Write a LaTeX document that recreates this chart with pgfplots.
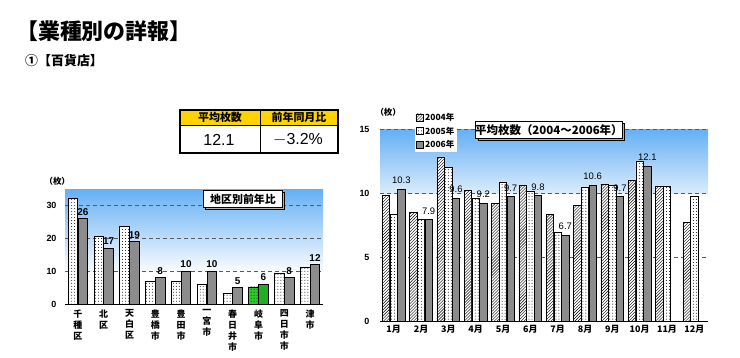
\documentclass[border=0pt]{standalone}
\usepackage{pgfplots}
\pgfplotsset{compat=1.18}
\usetikzlibrary{patterns}
\usepackage{fontspec}
\setmainfont{Liberation Sans}
\newfontfamily\cjk{Noto Sans CJK JP}
\definecolor{skyb}{RGB}{100,175,245}
\definecolor{skyl}{RGB}{218,236,252}
\definecolor{barg}{RGB}{140,140,140}
\definecolor{gold}{RGB}{255,210,0}
\definecolor{grn}{RGB}{40,205,40}
\definecolor{gridc}{RGB}{90,90,90}
\pgfplotsset{
  /pgf/number format/assume math mode=true,
  hatchbar/.style={fill=white, draw=black, line width=0.8bp, postaction={pattern=north east lines}},
  dotbar/.style={fill=white, draw=black, line width=0.8bp, postaction={pattern=dots}},
  graybar/.style={fill=barg, draw=black, line width=0.8bp},
}
\begin{document}
\begin{tikzpicture}
\path[use as bounding box] (0,0) rectangle (740bp,-358bp);
% titles
\node[anchor=west, inner sep=0] at (16bp,-31bp) {\cjk\fontsize{22}{26}\selectfont\bfseries 【業種別の詳報】};
\node[anchor=west, inner sep=0] at (25bp,-61bp) {\cjk\fontsize{13}{15}\selectfont\bfseries ①【百貨店】};
% summary table
\fill[gold] (180bp,-110bp) rectangle (338bp,-125bp);
\draw[line width=0.8bp] (180bp,-125bp) -- (338bp,-125bp);
\draw[line width=0.8bp] (260bp,-110bp) -- (260bp,-153bp);
\draw[line width=1.4bp] (180bp,-110bp) rectangle (338bp,-153bp);
\node at (220bp,-117.5bp) {\cjk\fontsize{11}{12}\selectfont\bfseries 平均枚数};
\node at (299bp,-117.5bp) {\cjk\fontsize{11}{12}\selectfont\bfseries 前年同月比};
\node at (219bp,-140bp) {\fontsize{16}{18}\selectfont 12.1};
\node at (298bp,-140bp) {\fontsize{16}{18}\selectfont $-$3.2\%};

% ---------------- left chart ----------------
\begin{axis}[
  at={(65bp,-304bp)}, anchor=south west, scale only axis,
  width=258bp, height=115bp,
  xmin=-0.5, xmax=9.5, ymin=0, ymax=35,
  ytick={0,10,20,30}, xtick={0,...,9},
  xticklabels={{千\\種\\区},{北\\区},{天\\白\\区},{豊\\橋\\市},{豊\\田\\市},{一\\宮\\市},{春\\日\\井\\市},{岐\\阜\\市},{四\\日\\市\\市},{津\\市}},
  xticklabel style={align=center, font=\cjk\fontsize{9}{11}\selectfont\bfseries, yshift=-2bp},
  yticklabel style={font=\fontsize{9}{10}\selectfont\bfseries, xshift=-5bp},
  major tick length=0pt,
  axis x line*=bottom, axis y line*=left,
  y axis line style={draw=none},
  x axis line style={line width=1bp},
  ybar, bar width=0.37,
  clip=false,
]
\shade[top color=skyb, bottom color=white, draw=none] (axis cs:-0.5,35) rectangle (axis cs:9.5,9);
\foreach \v in {10,20,30}{
  \edef\tmp{\noexpand\draw[dashed, gridc, line width=0.9bp, dash pattern=on 4bp off 3bp] (axis cs:-0.5,\v) -- (axis cs:9.5,\v);}\tmp
}
\addplot[dotbar, bar shift=-0.19] coordinates {(0,32) (1,20.7) (2,23.7) (3,7) (4,7) (5,6.1) (6,3.3) (7,5.2) (8,9.2) (9,11.2)};
\addplot[graybar, bar shift=0.19, nodes near coords, point meta=y,
  every node near coord/.append style={font=\fontsize{10}{11}\selectfont\bfseries, black, inner sep=1bp, yshift=2bp}]
  coordinates {(0,26) (1,17) (2,19) (3,8) (4,10) (5,10) (6,5) (7,6) (8,8) (9,12)};
\addplot[fill=grn, draw=black, line width=0.8bp, postaction={pattern=dots}, bar shift=-0.19] coordinates {(7,5.2)};
\addplot[fill=grn!85!black, draw=black, line width=0.8bp, bar shift=0.19] coordinates {(7,6)};
\node[anchor=south] at (rel axis cs:-0.03,1.0) {\cjk\fontsize{8.5}{10}\selectfont\bfseries （枚）};
\node[draw=black, fill=gray!60, minimum width=79bp, minimum height=17bp, inner sep=0] at ([xshift=1.5bp,yshift=-1.5bp]rel axis cs:0.69,0.913) {};
\node[draw=black, line width=0.6bp, fill=white, minimum width=79bp, minimum height=17bp, inner sep=0] at (rel axis cs:0.69,0.913) {\cjk\fontsize{11}{12}\selectfont\bfseries 地区別前年比};
\end{axis}

% ---------------- right chart ----------------
\begin{axis}[
  at={(380bp,-321bp)}, anchor=south west, scale only axis,
  width=328bp, height=192bp,
  xmin=0.5, xmax=12.5, ymin=0, ymax=15,
  ytick={0,5,10,15}, xtick={1,...,12},
  xticklabels={1月,2月,3月,4月,5月,6月,7月,8月,9月,10月,11月,12月},
  xticklabel style={font=\cjk\fontsize{9}{10}\selectfont\bfseries, yshift=-1bp},
  yticklabel style={font=\fontsize{9}{10}\selectfont\bfseries, xshift=-7bp},
  major tick length=0pt,
  axis x line*=bottom, axis y line*=left,
  y axis line style={draw=none},
  x axis line style={line width=1bp},
  ybar, bar width=0.27,
  clip=false,
  legend cell align=left,
  legend style={at={(0.105,1.10)}, anchor=north west, draw=none, fill=white,
    font=\cjk\fontsize{8.5}{9}\selectfont\bfseries, inner sep=1bp, row sep=1bp},
  legend image code/.code={\draw[#1, line width=0.6bp] (0bp,-3.5bp) rectangle (7bp,3.5bp);},
]
\shade[top color=skyb, bottom color=skyl, draw=none] (axis cs:0.5,15) rectangle (axis cs:12.5,10);
\foreach \v in {5,10,15}{
  \edef\tmp{\noexpand\draw[dashed, gridc, line width=0.9bp, dash pattern=on 4bp off 3bp] (axis cs:0.5,\v) -- (axis cs:12.5,\v);}\tmp
}
\addplot[hatchbar, bar shift=-0.28] coordinates {(1,9.8) (2,8.5) (3,12.8) (4,10.2) (5,9.2) (6,10.6) (7,8.3) (8,9.0) (9,10.7) (10,11.0) (11,10.5) (12,7.7)};
\addlegendentry{2004年}
\addplot[dotbar, bar shift=0] coordinates {(1,8.3) (2,7.95) (3,12.0) (4,9.6) (5,10.8) (6,10.1) (7,6.9) (8,10.4) (9,10.6) (10,12.5) (11,10.5) (12,9.7)};
\addlegendentry{2005年}
\addplot[graybar, bar shift=0.28, nodes near coords, point meta=y,
  nodes near coords={\pgfmathprintnumber[fixed, fixed zerofill, precision=1]{\pgfplotspointmeta}},
  every node near coord/.append style={font=\fontsize{9.5}{10}\selectfont, black, inner sep=1bp, yshift=4bp}]
  coordinates {(1,10.3) (2,7.9) (3,9.6) (4,9.2) (5,9.7) (6,9.8) (7,6.7) (8,10.6) (9,9.7) (10,12.1)};
\addlegendentry{2006年}
\node[anchor=south] at (rel axis cs:0.025,1.045) {\cjk\fontsize{8.5}{10}\selectfont\bfseries （枚）};
\node[draw=black, fill=gray!60, minimum width=146bp, minimum height=17bp, inner sep=0] at ([xshift=2bp,yshift=-2bp]rel axis cs:0.515,0.995) {};
\node[draw=black, line width=0.6bp, fill=white, minimum width=146bp, minimum height=17bp, inner sep=0] at (rel axis cs:0.515,0.995) {\cjk\fontsize{11.5}{12}\selectfont\bfseries 平均枚数（2004～2006年）};
\end{axis}
\end{tikzpicture}
\end{document}
